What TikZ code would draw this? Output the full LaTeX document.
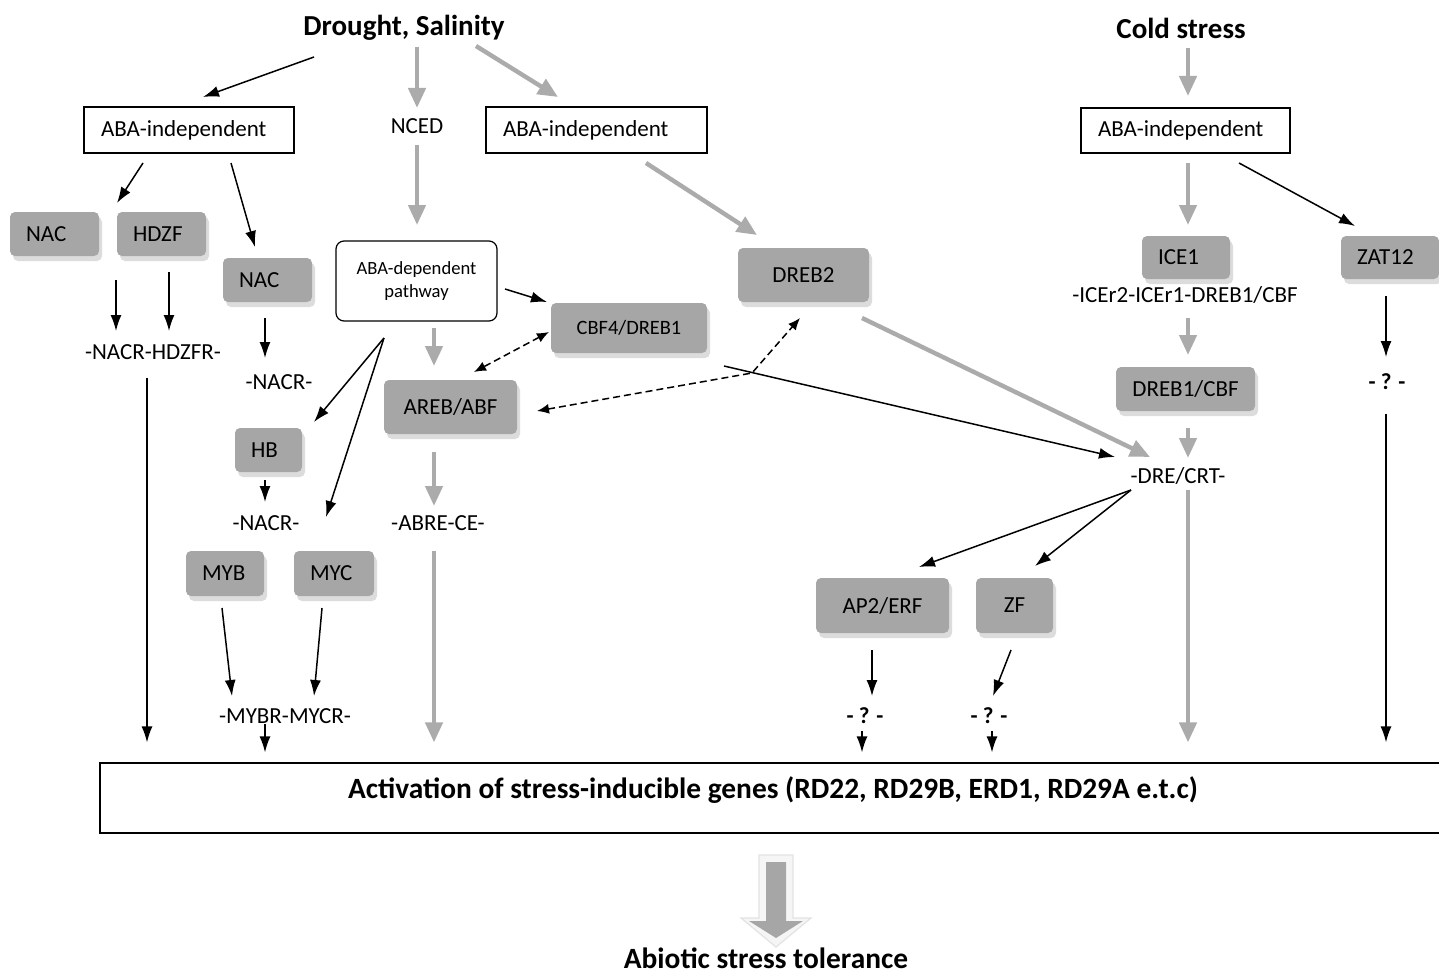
\documentclass[tikz,border=0pt]{standalone}
\usepackage{fontspec}
\setmainfont{Carlito}
\usepackage{xcolor}
\definecolor{mgray}{HTML}{A6A6A6}
\definecolor{mshadow}{HTML}{DCDCDC}
\definecolor{marrow}{HTML}{ABABAB}
\usepackage{tikz}
\usetikzlibrary{calc,shadows,arrows.meta}

\begin{document}
\begin{tikzpicture}[x=0.5pt, y=-0.5pt,
    txt/.style={inner sep=0pt, font=\fontsize{11.5}{13}\selectfont},
    qtxt/.style={inner sep=0pt, font=\fontsize{11.5}{13}\selectfont\bfseries},
    head/.style={inner sep=0pt, font=\fontsize{14.5}{17}\selectfont\bfseries},
    plain/.style={draw, line width=0.6pt, inner xsep=8.5pt, inner ysep=0pt, minimum height=23pt, align=left, font=\fontsize{11.5}{13}\selectfont},
    tf/.style={fill=mgray, rounded corners=2.5pt, inner sep=0pt, minimum height=22pt, align=center, font=\fontsize{11.5}{13}\selectfont,
        drop shadow={shadow xshift=1.5pt, shadow yshift=-2.5pt, fill=mshadow, opacity=1}},
    tfl/.style={tf, inner xsep=8pt, align=left},
    blk/.style={line width=0.75pt, -{Latex[length=8pt, width=5.5pt]}},
    dsh/.style={line width=0.75pt, dash pattern=on 3.5pt off 2pt, {Latex[length=6pt, width=5pt]}-{Latex[length=6pt, width=5pt]}},
    gry/.style={marrow, line width=2.2pt, -{Triangle[length=10pt, width=8.5pt]}}]
\useasboundingbox[fill=white] (0,0) rectangle (1439,974);

\node[head] (drought) at (404,28) {Drought, Salinity};
\node[head] (cold) at (1181,28) {Cold stress};
\node[plain, text width=88pt] (abaL) at (189,130) {ABA-independent};
\node[txt] (nced) at (417,126) {NCED};
\node[plain, text width=93.5pt] (abaM) at (596.5,130) {ABA-independent};
\node[plain, text width=87.5pt, minimum height=22.5pt] (abaR) at (1185.5,130.5) {ABA-independent};
\node[draw, line width=0.6pt, rounded corners=4pt, minimum width=80.5pt, minimum height=40pt, align=center,
    font=\fontsize{9.3}{11.5}\selectfont] (abadep) at (416.5,281) {ABA-dependent\\pathway};

\node[tfl, text width=28.5pt] (nacA) at (54.5,234) {NAC};
\node[tfl, text width=28.5pt] (hdzf) at (161.5,234) {HDZF};
\node[tfl, text width=28.5pt] (nacB) at (267.5,280) {NAC};
\node[tf, minimum width=78pt, minimum height=25pt, font=\fontsize{10.2}{12}\selectfont] (cbf4) at (629,328) {CBF4/DREB1};
\node[tf, minimum width=66.5pt, minimum height=27pt] (areb) at (450.5,407) {AREB/ABF};
\node[tfl, text width=17.5pt] (hb) at (268.5,450) {HB};
\node[tfl, text width=23pt, minimum height=22.5pt] (myb) at (225,573.5) {MYB};
\node[tfl, text width=24pt, minimum height=22.5pt] (myc) at (334,573.5) {MYC};
\node[tf, minimum width=65.5pt, minimum height=27pt] (dreb2) at (803.5,275) {DREB2};
\node[tfl, text width=28pt, minimum height=21.5pt] (ice1) at (1186,257.5) {ICE1};
\node[tfl, text width=33pt, minimum height=21.5pt] (zat12) at (1390,257.5) {ZAT12};
\node[tf, minimum width=69.5pt] (dreb1) at (1185.5,389) {DREB1/CBF};
\node[tf, minimum width=66.5pt, minimum height=27.5pt] (ap2) at (882.5,605.5) {AP2/ERF};
\node[tf, minimum width=38.5pt, minimum height=27.5pt] (zf) at (1014.5,605.5) {ZF};

\node[txt] (nacrhd) at (153,352) {-NACR-HDZFR-};
\node[txt] (nacr1) at (279,382) {-NACR-};
\node[txt] (nacr2) at (266,523) {-NACR-};
\node[txt] (abre) at (438,523) {-ABRE-CE-};
\node[txt] (mybr) at (285,716) {-MYBR-MYCR-};
\node[txt] (icer) at (1185,295) {-ICEr2-ICEr1-DREB1/CBF};
\node[txt] (dre) at (1178,476) {-DRE/CRT-};
\node[qtxt] (q1) at (1387,382) {- ? -};
\node[qtxt] (q2) at (865,716) {- ? -};
\node[qtxt] (q3) at (989,716) {- ? -};

\node[draw, line width=0.6pt, minimum width=672.5pt, minimum height=35pt, inner sep=0pt] (act) at (772.5,798) {};
\node[inner sep=0pt, font=\fontsize{14.7}{17}\selectfont\bfseries] (acttext) at ($(act)+(0.5,-8)$)
    {Activation of stress-inducible genes (RD22, RD29B, ERD1, RD29A e.t.c)};
\node[inner sep=0pt, font=\fontsize{14.7}{17}\selectfont\bfseries] (tol) at (766,958) {Abiotic stress tolerance};

\coordinate (j) at (752,373);
\coordinate (s) at (724,366);

\draw[blk] ($(drought)+(-90,29)$) -- ($(abaL)+(14,-33)$);
\draw[gry] ($(drought)+(13,19)$) -- ($(nced)+(0,-18)$);
\draw[gry] ($(drought)+(72,18)$) -- ($(abaM)+(-38.5,-33)$);
\draw[gry] ($(nced)+(0,19)$) -- ($(abadep)+(0.5,-56)$);
\draw[blk] ($(abaL)+(-46,33)$) -- ($(hdzf)+(-44.5,-31)$);
\draw[blk] ($(abaL)+(42,33)$) -- ($(nacB)+(-12.5,-33)$);
\draw[blk] ($(nacA)+(61.5,46)$) -- ($(nacrhd)+(-37,-21)$);
\draw[blk] ($(hdzf)+(7.5,38)$) -- ($(nacrhd)+(16,-21)$);
\draw[blk] ($(nacrhd)+(-6,26)$) -- ($(nacrhd |- act.north)+(-6,-20)$);
\draw[blk] ($(nacB)+(-2.5,38)$) -- ($(nacr1)+(-14,-24)$);
\draw[blk] ($(abadep)+(-32.5,57)$) -- ($(hb)+(45.5,-28)$);
\draw[blk] ($(abadep)+(-32.5,57)$) -- ($(nacr2)+(60,-6)$);
\draw[blk] ($(hb)+(-3.5,30)$) -- ($(nacr2)+(-1,-21)$);
\draw[blk] ($(myb)+(-3,34.5)$) -- ($(mybr)+(-53,-20)$);
\draw[blk] ($(myc)+(-12,34.5)$) -- ($(mybr)+(29,-20)$);
\draw[blk] ($(mybr)+(-20,8)$) -- ($(mybr |- act.north)+(-20,-10)$);
\draw[blk] ($(abadep)+(88.5,8)$) -- ($(cbf4)+(-82,-26)$);
\draw[dsh] ($(cbf4)+(-80,4)$) -- ($(areb)+(23.5,-35)$);
\draw[gry] ($(abadep)+(17.5,47)$) -- ($(areb)+(-16.5,-41)$);
\draw[gry] ($(areb)+(-16.5,45)$) -- ($(abre)+(-4,-17)$);
\draw[gry] ($(abre)+(-4,28)$) -- ($(abre |- act.north)+(-4,-20)$);
\draw[dsh] ($(areb)+(86.5,4)$) -- (j) -- ($(dreb2)+(-3.5,43)$);
\draw[blk] (s) -- ($(dre)+(-63,-19)$);
\draw[gry] ($(abaM)+(49.5,33)$) -- ($(dreb2)+(-46.5,-40)$);
\draw[gry] ($(dreb2)+(58.5,43)$) -- ($(dre)+(-28,-19)$);
\draw[gry] ($(cold)+(7,20)$) -- ($(abaR)+(2.5,-34.5)$);
\draw[gry] ($(abaR)+(2.5,32.5)$) -- ($(ice1)+(2,-32.5)$);
\draw[blk] ($(abaR)+(53.5,32.5)$) -- ($(zat12)+(-35,-31.5)$);
\draw[gry] ($(icer)+(3,23)$) -- ($(dreb1)+(2.5,-34)$);
\draw[gry] ($(dreb1)+(2.5,39)$) -- ($(dre)+(10,-18)$);
\draw[gry] ($(dre)+(10,14)$) -- ($(dre |- act.north)+(10,-20)$);
\draw[blk] ($(zat12)+(-4,38.5)$) -- ($(q1)+(-1,-25)$);
\draw[blk] ($(q1)+(-1,32)$) -- ($(q1 |- act.north)+(-1,-20)$);
\draw[blk] ($(dre)+(-47,14)$) -- ($(ap2)+(36.5,-38.5)$);
\draw[blk] ($(dre)+(-47,14)$) -- ($(zf)+(20.5,-39.5)$);
\draw[blk] ($(ap2)+(-10.5,44.5)$) -- ($(q2)+(7,-20)$);
\draw[blk] ($(q2)+(-3,15)$) -- ($(q2 |- act.north)+(-3,-10)$);
\draw[blk] ($(zf)+(-3.5,44.5)$) -- ($(q3)+(4,-20)$);
\draw[blk] ($(q3)+(3,15)$) -- ($(q3 |- act.north)+(3,-10)$);

\draw[fill=gray!8, draw=gray!22, line width=0.6pt] (759,855) -- (793,855) -- (793,918) -- (811,918) -- (776,947)
    -- (741,918) -- (759,918) -- cycle;
\fill[mgray] (766,862) -- (786,862) -- (786,921) -- (803,921) -- (776,938) -- (749,921) -- (766,921) -- cycle;
\end{tikzpicture}
\end{document}
